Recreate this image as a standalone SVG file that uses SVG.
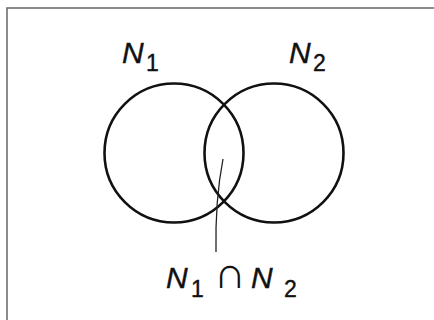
<svg xmlns="http://www.w3.org/2000/svg" width="434" height="320" viewBox="0 0 434 320">
<style>
.c{fill:none;stroke:#111;stroke-width:2.6}
.t{font-family:"Liberation Sans",Arial,sans-serif;fill:#111;stroke:#111;stroke-width:0.4}
.n{font-style:italic;font-size:30px}
.s{font-size:23px}
.cap{font-family:"DejaVu Sans",sans-serif;font-weight:200;font-size:44px;fill:#111}
</style>
<rect x="0" y="0" width="434" height="320" fill="#fff"/>
<rect x="7" y="8" width="440" height="330" fill="none" stroke="#666" stroke-width="1.5"/>
<g id="setN1">
<circle class="c" cx="174" cy="153" r="69.5"/>
<text class="t n" x="122" y="63">N</text><text class="t s" x="146" y="71">1</text>
</g>
<g id="setN2">
<circle class="c" cx="274" cy="153" r="69.5"/>
<text class="t n" x="289" y="63">N</text><text class="t s" x="313" y="71">2</text>
</g>
<g id="connectors">
<path d="M223,159 Q215,200 216,252" fill="none" stroke="#222" stroke-width="1.3"/>
</g>
<g id="intersection">
<text class="t n" x="166" y="288">N</text><text class="t s" x="191" y="297">1</text>
<text class="cap" x="214" y="288">∩</text>
<text class="t n" x="251" y="288">N</text><text class="t s" x="284" y="297">2</text>
</g>
</svg>
